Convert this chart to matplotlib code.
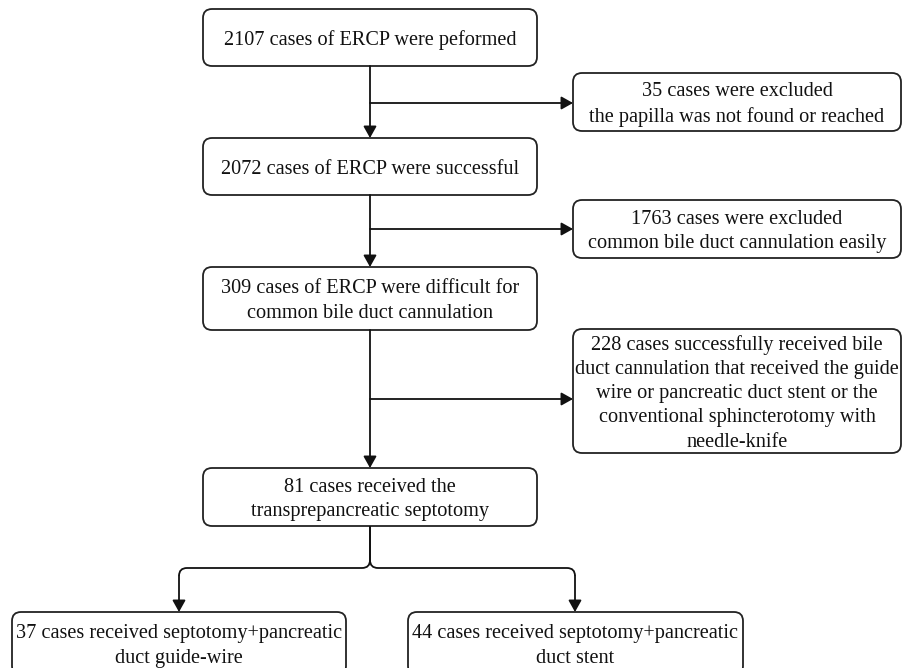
import matplotlib
matplotlib.use("Agg")
import matplotlib.pyplot as plt
from matplotlib.patches import FancyBboxPatch, FancyArrowPatch, PathPatch
from matplotlib.path import Path

plt.rcParams["font.family"] = ["Liberation Serif", "DejaVu Serif"]

# box texts (flow order)
main_steps = [
    "2107 cases of ERCP were peformed",
    "2072 cases of ERCP were successful",
    "309 cases of ERCP were difficult for\ncommon bile duct cannulation",
    "81 cases received the\ntransprepancreatic septotomy",
]
exclusions = [
    "35 cases were excluded\nthe papilla was not found or reached",
    "1763 cases were excluded\ncommon bile duct cannulation easily",
    "228 cases successfully received bile\nduct cannulation that received the guide\n"
    "wire or pancreatic duct stent or the\nconventional sphincterotomy with\nneedle-knife",
]
outcomes = [
    "37 cases received septotomy+pancreatic\nduct guide-wire",
    "44 cases received septotomy+pancreatic\nduct stent",
]

# layout in pixels (x0, y0, x1, y1), y grows downward
main_boxes = [(203, 9, 537, 66), (203, 138, 537, 195), (203, 267, 537, 330), (203, 468, 537, 526)]
excl_boxes = [(573, 73, 901, 131), (573, 200, 901, 258), (573, 329, 901, 453)]
out_boxes = [(12, 612, 346, 675), (408, 612, 743, 675)]
branch_y = [103, 229, 399]
spine_x = 370
fork_y = 568
out_x = [179, 575]

W, H = 902, 668
fig = plt.figure(figsize=(W / 100, H / 100), dpi=100)
ax = fig.add_axes([0, 0, 1, 1])
ax.set_xlim(0, W)
ax.set_ylim(H, 0)
ax.axis("off")

LW = 1.3
FS = 14.6


def box(b, text, fs=FS, dy=2.5):
    x0, y0, x1, y1 = b
    ax.add_patch(FancyBboxPatch((x0, y0), x1 - x0, y1 - y0,
                                boxstyle="round,pad=0,rounding_size=9",
                                fc="white", ec="#222222", lw=LW))
    ax.text((x0 + x1) / 2, (y0 + y1) / 2 + dy, text, ha="center", va="center",
            fontsize=fs, linespacing=1.36, color="#111111")


def arrow(p0, p1):
    ax.add_patch(FancyArrowPatch(p0, p1, arrowstyle="-|>,head_length=0.5,head_width=0.28",
                                 mutation_scale=14, lw=LW, color="#111111",
                                 shrinkA=0, shrinkB=0))


for b, t in zip(main_boxes, main_steps):
    box(b, t)
for b, t in zip(excl_boxes, exclusions):
    box(b, t)
for b, t in zip(out_boxes, outcomes):
    box(b, t)

# spine arrows between main boxes, with side branches
for i in range(3):
    arrow((spine_x, main_boxes[i][3]), (spine_x, main_boxes[i + 1][1]))
    arrow((spine_x, branch_y[i]), (excl_boxes[i][0], branch_y[i]))

# brace-like fork to the two outcome boxes
r = 8
for xo, ob in zip(out_x, out_boxes):
    s = 1 if xo > spine_x else -1
    verts = [(spine_x, main_boxes[3][3]), (spine_x, fork_y - r),
             (spine_x, fork_y), (spine_x + s * r, fork_y),
             (xo - s * r, fork_y),
             (xo, fork_y), (xo, fork_y + r)]
    codes = [Path.MOVETO, Path.LINETO, Path.CURVE3, Path.CURVE3,
             Path.LINETO, Path.CURVE3, Path.CURVE3]
    ax.add_patch(PathPatch(Path(verts, codes), fc="none", ec="#111111", lw=LW))
    arrow((xo, fork_y + r), (xo, ob[1]))

fig.savefig("out.png", dpi=100, facecolor="white")
